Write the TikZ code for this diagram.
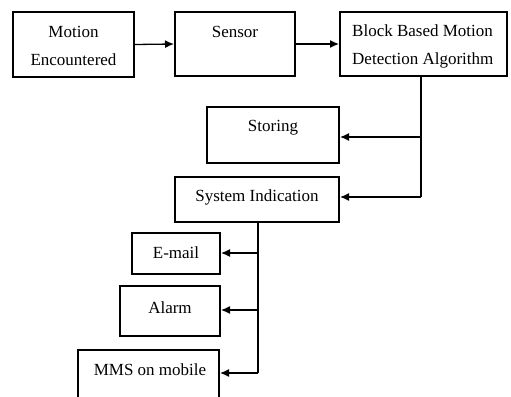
\documentclass[tikz,border=0pt]{standalone}
\usepackage{fontspec}
\setmainfont{Liberation Serif}
\usetikzlibrary{arrows.meta}
\begin{document}
\begin{tikzpicture}[x=1pt,y=-1pt,
  box/.style={draw, line width=2pt, inner sep=0pt},
  txt/.style={inner sep=0pt, align=center, font=\fontsize{17}{28}\selectfont},
  conn/.style={line width=1.3pt},
  arr/.style={line width=1.3pt, -{Latex[length=9pt,width=8pt]}}]
\useasboundingbox (0,0) rectangle (511,396);
% boxes
\node[box, minimum width=121pt, minimum height=65pt] (b1) at (73.5,44.5) {};
\node[box, minimum width=120pt, minimum height=64pt] (b2) at (235,44) {};
\node[box, minimum width=167pt, minimum height=64pt] (b3) at (423.5,44) {};
\node[box, minimum width=132pt, minimum height=56pt] (stor) at (273,135) {};
\node[box, minimum width=164pt, minimum height=45pt] (sys) at (257,199.5) {};
\node[box, minimum width=88pt, minimum height=41pt] (mail) at (176,253.5) {};
\node[box, minimum width=100pt, minimum height=50pt] (alarm) at (170,311) {};
\node[box, minimum width=141pt, minimum height=54pt] (mms) at (148.5,377) {};
% texts
\node[txt] (t1) at (73.5,46) {Motion\\Encountered};
\node[txt] (t2) at (235,32) {Sensor};
\node[txt, align=left, anchor=west] (t3) at (352,46) {Block Based Motion\\Detection Algorithm};
\node[txt] (t4) at (273,128) {Storing};
\node[txt] (t5) at (257,197) {System Indication};
\node[txt] (t6) at (176,253) {E-mail};
\node[txt] (t7) at (170,308) {Alarm};
\node[txt] (t8) at (150,370) {MMS on mobile};
% junction coordinates
\coordinate (j1) at (421,137);
\coordinate (j2) at (421,197);
\coordinate (k1) at (258,253);
\coordinate (k2) at (258,310);
\coordinate (k3) at (258,373);
% connectors
\draw[arr] (b1.east) -- (b2.west);
\draw[arr] (b2.east) -- (b3.west);
\draw[conn] (b3.south -| j1) -- (j2);
\draw[arr] (j1) -- (stor.east |- j1);
\draw[arr] (j2) -- (sys.east |- j2);
\draw[conn] (sys.south -| k3) -- (k3);
\draw[arr] (k1) -- (mail.east |- k1);
\draw[arr] (k2) -- (alarm.east |- k2);
\draw[arr] (k3) -- (mms.east |- k3);
\end{tikzpicture}
\end{document}
